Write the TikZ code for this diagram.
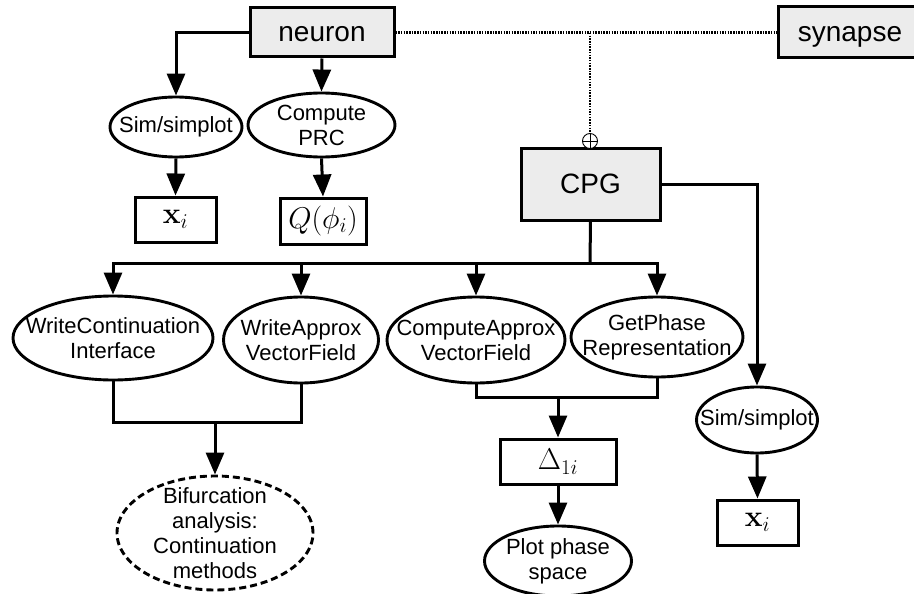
\documentclass[tikz,border=0pt]{standalone}
\usepackage{fix-cm}
\usepackage[no-math]{fontspec}
\setmainfont{Liberation Sans}
\usetikzlibrary{shapes.geometric,arrows.meta}
\definecolor{boxgray}{HTML}{ECECEC}
\tikzset{
  topbox/.style={draw, line width=3pt, fill=boxgray, inner sep=0pt, font=\fontsize{28}{32}\selectfont, text height=19pt, text depth=0pt},
  mathbox/.style={draw, line width=3pt, fill=white, inner sep=0pt, font=\fontsize{30}{34}\selectfont},
  ell/.style={draw, ellipse, line width=2.9pt, inner sep=0pt},
  etext/.style={align=center, inner sep=0pt, font=\fontsize{22}{25}\selectfont},
  conn/.style={line width=3pt},
  arr/.style={line width=3pt, -{Triangle[length=22pt,width=18pt]}},
  dots/.style={line width=2.2pt, dash pattern=on 1.5pt off 1.2pt},
}
\begin{document}
\begin{tikzpicture}[x=1pt,y=-1pt]
\useasboundingbox (0,0) rectangle (914,594);
% top boxes
\node[topbox, minimum width=144pt, minimum height=49pt] (neuron) at (322,32.5) {neuron};
\node[topbox, minimum width=144pt, minimum height=51pt] (synapse) at (850,32.5) {synapse};
\node[topbox, minimum width=139pt, minimum height=72pt] (cpg) at (590.5,184) {CPG};
% neuron branch
\node[ell, minimum width=132pt, minimum height=60pt, label={[etext]center:{Sim/simplot}}] (sim1) at (176,127) {};
\node[ell, minimum width=147pt, minimum height=64pt, label={[etext]center:{Compute\\PRC}}] (prc) at (321.5,125) {};
\node[mathbox, minimum width=81pt, minimum height=45pt] (x1) at (175.5,219.5) {$\mathbf{x}_i$};
\node[mathbox, minimum width=86pt, minimum height=46pt] (q) at (323,221) {$Q(\phi_i)$};
\draw[arr] (neuron.west) -| (sim1.north);
\draw[arr] (neuron.south) -- (prc.north);
\draw[arr] (sim1.south) -- (x1.north);
\draw[arr] (prc.south) -- (q.north);
% dotted link
\coordinate (tee) at (590,33);
\node[circle, draw, line width=0.9pt, minimum size=15pt, inner sep=0pt, fill=white] (plus) at (590,141) {};
\draw[line width=0.9pt] (plus.north) -- (plus.south) (plus.west) -- (plus.east);
\draw[dots] (neuron.east) -- (synapse.west);
\draw[dots] (tee) -- (plus.north);
% CPG children
\node[ell, minimum width=200pt, minimum height=84pt, label={[etext]center:{WriteContinuation\\Interface}}] (wc) at (113,338) {};
\node[ell, minimum width=155pt, minimum height=86pt, label={[etext]center:{WriteApprox\\VectorField}}] (wa) at (301,340) {};
\node[ell, minimum width=178pt, minimum height=86pt, label={[etext]center:{ComputeApprox\\VectorField}}] (ca) at (476,340) {};
\node[ell, minimum width=172pt, minimum height=80pt, label={[etext]center:{GetPhase\\Representation}}] (gp) at (657,337) {};
\coordinate (bus) at (590,263);
\draw[conn] (cpg.south) -- (bus);
\draw[arr] (bus) -| (wc.north);
\draw[arr] (bus) -| (wa.north);
\draw[arr] (bus) -| (ca.north);
\draw[arr] (bus) -| (gp.north);
% bifurcation
\node[ell, dash pattern=on 7pt off 4pt, minimum width=196pt, minimum height=114pt, label={[etext]center:{Bifurcation\\analysis:\\Continuation\\methods}}] (bif) at (215,533) {};
\coordinate (j1) at (215,422);
\draw[conn] (wc.south) |- (j1) -| (wa.south);
\draw[arr] (j1) -- (bif.north);
% delta
\node[mathbox, minimum width=116pt, minimum height=45pt] (delta) at (558,461.5) {$\Delta_{1i}$};
\node[ell, minimum width=147pt, minimum height=70pt, label={[etext]center:{Plot phase\\space}}] (plot) at (558,561) {};
\coordinate (j2) at (558,397);
\draw[conn] (ca.south) |- (j2) -| (gp.south);
\draw[arr] (j2) -- (delta.north);
\draw[arr] (delta.south) -- (plot.north);
% right branch
\node[ell, minimum width=121pt, minimum height=66pt, label={[etext]center:{Sim/simplot}}] (sim2) at (757,420) {};
\node[mathbox, minimum width=81pt, minimum height=45pt] (x2) at (757.5,522.5) {$\mathbf{x}_i$};
\draw[arr] (cpg.east) -| (sim2.north);
\draw[arr] (sim2.south) -- (x2.north);
\end{tikzpicture}
\end{document}
